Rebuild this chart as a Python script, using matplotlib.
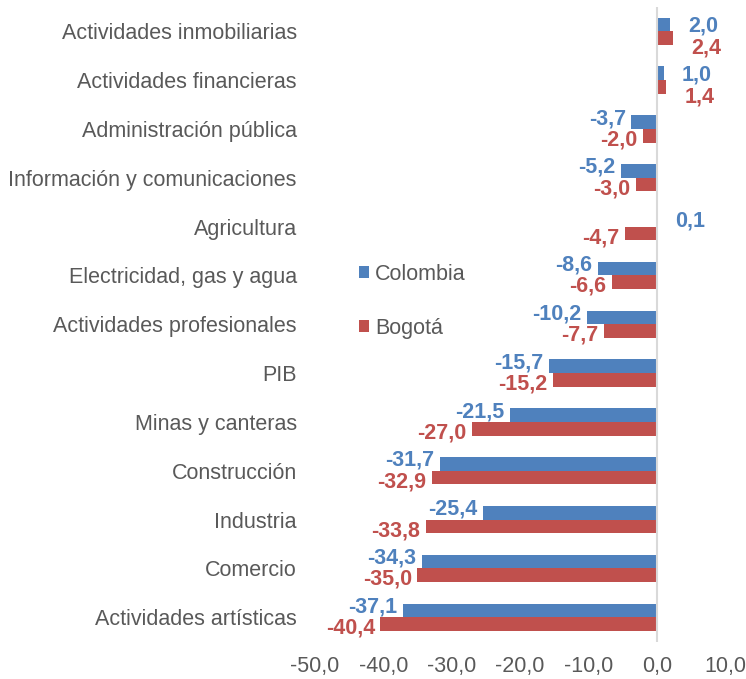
import numpy as np
import matplotlib.pyplot as plt

plt.rcParams['font.family'] = ['Liberation Sans', 'DejaVu Sans']

sectores = ["Actividades inmobiliarias", "Actividades financieras", "Administración pública",
            "Información y comunicaciones", "Agricultura", "Electricidad, gas y agua",
            "Actividades profesionales", "PIB", "Minas y canteras", "Construcción",
            "Industria", "Comercio", "Actividades artísticas"]
colombia = [2.0, 1.0, -3.7, -5.2, 0.1, -8.6, -10.2, -15.7, -21.5, -31.7, -25.4, -34.3, -37.1]
bogota = [2.4, 1.4, -2.0, -3.0, -4.7, -6.6, -7.7, -15.2, -27.0, -32.9, -33.8, -35.0, -40.4]
ticks = [-50, -40, -30, -20, -10, 0, 10]

azul = "#4F81BD"
rojo = "#C0504D"
gris = "#595959"
fs = 15.5

fig = plt.figure(figsize=(7.46, 6.79), dpi=100)
ax = fig.add_axes([0.422, 0.055, 0.55, 0.935])

y = np.arange(len(sectores))
h = 0.28
ax.barh(y - h / 2, colombia, height=h, color=azul, label="Colombia")
ax.barh(y + h / 2, bogota, height=h, color=rojo, label="Bogotá")

def etiqueta(v, yy, color, dy, dy_pos):
    txt = f"{v:.1f}".replace(".", ",")
    if v >= 0:
        ax.annotate(txt, (v, yy), xytext=(13, dy_pos), textcoords="offset points",
                    ha="left", va="center", color=color, fontsize=fs, fontweight="bold")
    else:
        ax.annotate(txt, (v, yy), xytext=(-4, dy), textcoords="offset points",
                    ha="right", va="center", color=color, fontsize=fs, fontweight="bold")

for i in range(len(sectores)):
    etiqueta(colombia[i], y[i] - h / 2, azul, 2.5, -1)
    etiqueta(bogota[i], y[i] + h / 2, rojo, -3, -7)

ax.set_ylim(len(sectores) - 0.5, -0.5)
ax.set_xlim(-50, 10)
ax.set_xticks(ticks)
ax.set_xticklabels([f"{t:.1f}".replace(".", ",") for t in ticks], color=gris, fontsize=fs)
ax.set_yticks(y)
ax.set_yticklabels(sectores, color=gris, fontsize=fs)
ax.tick_params(axis="x", length=0, pad=10)
ax.tick_params(axis="y", length=0, pad=13)
for s in ax.spines.values():
    s.set_visible(False)
ax.axvline(0, color="#D9D9D9", lw=1.5)

leg = ax.legend(loc="upper left", bbox_to_anchor=(0.087, 0.609), frameon=False, fontsize=fs,
                handlelength=0.45, handleheight=0.45, handletextpad=0.3, labelspacing=1.53,
                labelcolor=gris, borderaxespad=0)

fig.savefig("out.png")
